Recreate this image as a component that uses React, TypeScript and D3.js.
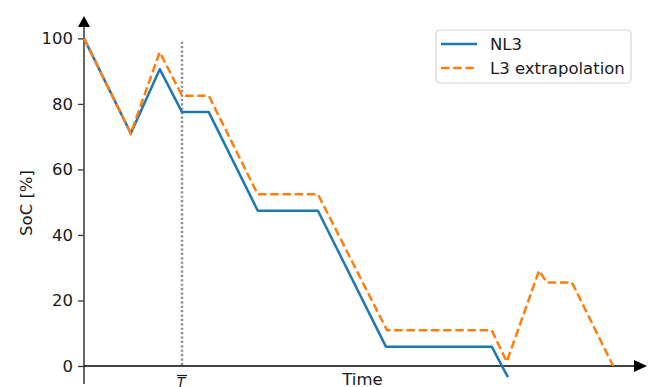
import React, { FC, useEffect, useRef } from "react"
import { axisLeft, line, scaleLinear, select } from "d3"

type P = {
  t: number
  soc: number
}

// time in arbitrary units (0 = start)
const nl3Times = [0, 8.4, 13.6, 17.6, 22.4, 31.2, 42.0, 54.2, 73.2, 76.1]
const nl3Soc = [100, 71, 90.6, 77.5, 77.5, 47.4, 47.4, 5.9, 5.9, -3.4]

const l3Times = [0, 8.4, 13.6, 17.6, 22.4, 31.2, 42.0, 54.4, 73.2, 75.9, 81.7, 83.1, 87.6, 95.0]
const l3Soc = [100, 71, 95.8, 82.5, 82.5, 52.4, 52.4, 10.9, 10.9, 1.3, 29.1, 25.5, 25.5, 0]

const tBar = 17.6
const yTicks = [0, 20, 40, 60, 80, 100]
const seriesNames = ["NL3", "L3 extrapolation"]

const toPoints = (ts: number[], vs: number[]): P[] =>
  ts.map((t, i) => ({ t, soc: vs[i] }))

const App: FC = () => {
  const wrapperRef = useRef<HTMLDivElement>(null)

  useEffect(() => {
    document.body.style.margin = "0"
    const el = wrapperRef.current
    if (!el) return
    select(el).selectAll("*").remove()

    const width = 652
    const height = 387
    const font = "DejaVu Sans, sans-serif"
    const fs = 16.5
    const ink = "#1a1a1a"

    // axes box
    const left = 84
    const right = 641
    const top = 22
    const bottom = 384

    const xScale = scaleLinear().domain([0, 100]).range([left, right])
    const yScale = scaleLinear().domain([-5.5, 105]).range([bottom, top])

    const svg = select(el)
      .append("svg")
      .attr("width", width)
      .attr("height", height)
      .style("display", "block")
      .style("font-family", font)

    svg.append("rect").attr("width", width).attr("height", height).attr("fill", "white")

    // T bar marker
    svg
      .append("line")
      .attr("x1", xScale(tBar))
      .attr("x2", xScale(tBar))
      .attr("y1", yScale(99))
      .attr("y2", yScale(0))
      .attr("stroke", "#8c8c8c")
      .attr("stroke-width", 2.4)
      .attr("stroke-dasharray", "2.2,2.2")

    // y spine + ticks
    const yAxis = svg
      .append("g")
      .attr("transform", `translate(${left},0)`)
      .call(axisLeft(yScale).tickValues(yTicks).tickSize(6).tickPadding(5).tickSizeOuter(0))
    yAxis.select(".domain").remove()
    yAxis.selectAll(".tick line").attr("stroke", "#333").attr("stroke-width", 1.3)
    yAxis
      .selectAll(".tick text")
      .attr("font-family", font)
      .attr("font-size", fs)
      .attr("fill", ink)
    svg
      .append("line")
      .attr("x1", left)
      .attr("x2", left)
      .attr("y1", top)
      .attr("y2", bottom)
      .attr("stroke", "#555")
      .attr("stroke-width", 1.8)

    // x axis at SoC = 0
    svg
      .append("line")
      .attr("x1", left)
      .attr("x2", right)
      .attr("y1", yScale(0))
      .attr("y2", yScale(0))
      .attr("stroke", "black")
      .attr("stroke-width", 1.7)

    // arrows
    svg
      .append("path")
      .attr("d", `M${left - 6},${top + 5}L${left + 6},${top + 5}L${left},${top - 6}Z`)
      .attr("fill", "black")
    svg
      .append("path")
      .attr("d", `M${right - 7},${yScale(0) - 6}L${right - 7},${yScale(0) + 6}L${right + 6},${yScale(0)}Z`)
      .attr("fill", "black")

    // lines
    const lineGen = line<P>()
      .x((d) => xScale(d.t))
      .y((d) => yScale(d.soc))

    svg
      .append("path")
      .attr("d", lineGen(toPoints(nl3Times, nl3Soc)))
      .attr("fill", "none")
      .attr("stroke", "#1f77b4")
      .attr("stroke-width", 2.5)
      .attr("stroke-linejoin", "round")

    svg
      .append("path")
      .attr("d", lineGen(toPoints(l3Times, l3Soc)))
      .attr("fill", "none")
      .attr("stroke", "#ff7f0e")
      .attr("stroke-width", 2.5)
      .attr("stroke-dasharray", "8.5,3.7")

    // labels
    svg
      .append("text")
      .attr("x", (left + right) / 2)
      .attr("y", 385)
      .attr("text-anchor", "middle")
      .attr("font-size", fs)
      .attr("fill", ink)
      .text("Time")

    svg
      .append("text")
      .attr("transform", `translate(32,${(top + bottom) / 2}) rotate(-90)`)
      .attr("text-anchor", "middle")
      .attr("font-size", fs)
      .attr("fill", ink)
      .text("SoC [%]")

    svg
      .append("text")
      .attr("x", xScale(tBar) - 1)
      .attr("y", 387)
      .attr("text-anchor", "middle")
      .attr("font-size", 14)
      .attr("font-style", "italic")
      .attr("fill", ink)
      .text("T")
    svg
      .append("line")
      .attr("x1", xScale(tBar) - 5)
      .attr("x2", xScale(tBar) + 5)
      .attr("y1", 375.5)
      .attr("y2", 375.5)
      .attr("stroke", ink)
      .attr("stroke-width", 1.2)

    // legend
    const legend = svg.append("g").attr("transform", "translate(436,30)")
    legend
      .append("rect")
      .attr("width", 195)
      .attr("height", 53)
      .attr("rx", 4)
      .attr("fill", "white")
      .attr("fill-opacity", 0.8)
      .attr("stroke", "#d6d6d6")
      .attr("stroke-width", 1.2)
    const styles = [
      { color: "#1f77b4", dash: null as string | null },
      { color: "#ff7f0e", dash: "8.5,3.7" },
    ]
    seriesNames.forEach((name, i) => {
      const y = 14 + i * 24
      legend
        .append("line")
        .attr("x1", 5)
        .attr("x2", 41)
        .attr("y1", y)
        .attr("y2", y)
        .attr("stroke", styles[i].color)
        .attr("stroke-width", 2.5)
        .attr("stroke-dasharray", styles[i].dash)
      legend
        .append("text")
        .attr("x", 54)
        .attr("y", y)
        .attr("dy", "0.35em")
        .attr("font-size", fs)
        .attr("fill", ink)
        .text(name)
    })
  }, [])

  return <div ref={wrapperRef} />
}

export default App
